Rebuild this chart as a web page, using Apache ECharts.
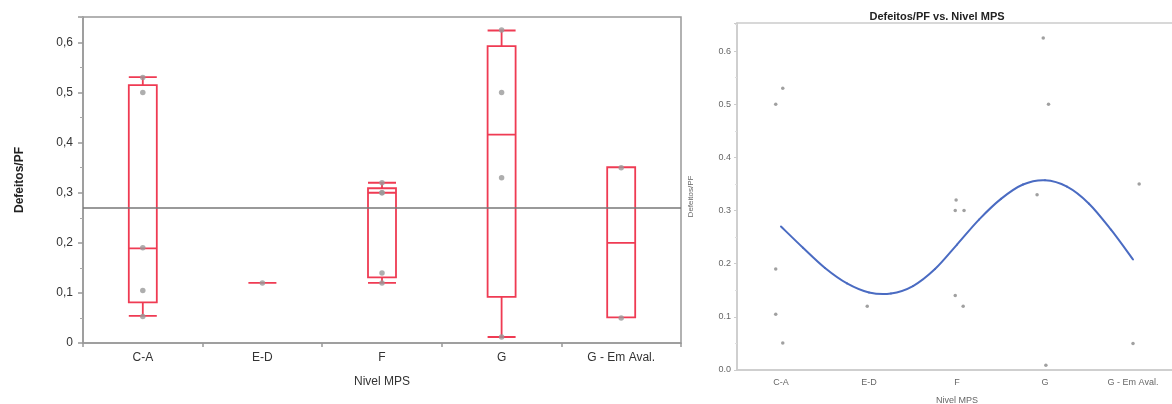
<!DOCTYPE html>
<html>
<head>
<meta charset="utf-8">
<script src="https://cdn.jsdelivr.net/npm/echarts@6/dist/echarts.min.js"></script>
<style>
html,body{margin:0;padding:0;background:#fff;}
#chart{width:1172px;height:404px;}
</style>
</head>
<body>
<div id="chart"></div>
<script>
// ---- data ----
const categories = ['C-A', 'E-D', 'F', 'G', 'G - Em Aval.'];
// box statistics [min, Q1, median, Q3, max]
const boxStats = [
  [0.054, 0.081, 0.189, 0.515, 0.531],
  [0.12, 0.12, 0.12, 0.12, 0.12],
  [0.12, 0.131, 0.30, 0.309, 0.32],
  [0.012, 0.092, 0.416, 0.593, 0.624],
  [0.051, 0.051, 0.20, 0.351, 0.351]
];
// raw observations per category
const obsCA = [0.053, 0.105, 0.19, 0.50, 0.53];
const obsED = [0.12];
const obsF = [0.12, 0.14, 0.30, 0.30, 0.32];
const obsG = [0.012, 0.33, 0.50, 0.625];
const obsGEm = [0.05, 0.35];
const grandMean = 0.265;
// right panel: jittered category position (1..5) and value
const scatterX = [0.94, 1.02, 0.94, 0.94, 1.02, 1.98, 2.99, 2.98, 3.08, 2.98, 3.07, 3.98, 4.04, 3.91, 4.01, 5.07, 5.0];
const scatterY = [0.50, 0.53, 0.19, 0.105, 0.051, 0.12, 0.32, 0.30, 0.30, 0.14, 0.12, 0.625, 0.50, 0.33, 0.009, 0.35, 0.05];
// smoother curve
const curveX = [1, 1.25, 1.5, 1.75, 2, 2.25, 2.5, 2.75, 3, 3.25, 3.5, 3.75, 4, 4.25, 4.5, 4.75, 5];
const curveY = [0.270, 0.230, 0.192, 0.163, 0.146, 0.144, 0.158, 0.190, 0.236, 0.283, 0.322, 0.349, 0.357, 0.345, 0.313, 0.264, 0.208];

// ---- build ----
const obsAll = [obsCA, obsED, obsF, obsG, obsGEm];
const pointsLeft = [];
obsAll.forEach((arr, i) => arr.forEach(v => pointsLeft.push([i, v])));
const pointsRight = scatterX.map((x, i) => [x, scatterY[i]]);
const curve = curveX.map((x, i) => [x, curveY[i]]);

const red = '#ef3b53';
const blue = '#4a6bc2';
const font = 'Liberation Sans, Arial, sans-serif';

// Catmull-Rom segment drawn through the axis scales
function renderCurveSegment(params, api) {
  const i = params.dataIndex;
  const n = curve.length;
  if (i >= n - 1) return null;
  const p = k => api.coord(curve[Math.max(0, Math.min(n - 1, k))]);
  const p0 = p(i - 1), p1 = p(i), p2 = p(i + 1), p3 = p(i + 2);
  return {
    type: 'bezierCurve',
    shape: {
      x1: p1[0], y1: p1[1], x2: p2[0], y2: p2[1],
      cpx1: p1[0] + (p2[0] - p0[0]) / 6, cpy1: p1[1] + (p2[1] - p0[1]) / 6,
      cpx2: p2[0] - (p3[0] - p1[0]) / 6, cpy2: p2[1] - (p3[1] - p1[1]) / 6
    },
    style: {stroke: blue, lineWidth: 2, fill: null, lineCap: 'round'}
  };
}

const chart = echarts.init(document.getElementById('chart'), null, {renderer: 'canvas'});
chart.setOption({
  animation: false,
  backgroundColor: '#fff',
  title: {
    text: 'Defeitos/PF vs. Nivel MPS',
    left: 932, top: 6, textAlign: 'center',
    textStyle: {fontSize: 11, fontWeight: 'bold', color: '#222', fontFamily: font}
  },
  grid: [
    {left: 83, top: 17, width: 598, height: 326, show: true, borderColor: '#999', borderWidth: 1.5,
     backgroundColor: 'transparent', containLabel: false, outerBoundsMode: 'none'},
    {left: 737, top: 23, width: 440, height: 347, show: true, borderColor: '#ccc', borderWidth: 1.5,
     backgroundColor: 'transparent', containLabel: false, outerBoundsMode: 'none'}
  ],
  xAxis: [
    {
      gridIndex: 0, type: 'category', data: categories, boundaryGap: true,
      axisLine: {lineStyle: {color: '#999', width: 1.5}},
      axisTick: {show: true, length: 4, lineStyle: {color: '#999', width: 1.5}},
      axisLabel: {color: '#333', fontSize: 12, margin: 9, fontFamily: font},
      name: 'Nivel MPS', nameLocation: 'middle', nameGap: 33,
      nameTextStyle: {color: '#333', fontSize: 12, fontFamily: font},
      splitLine: {show: false}
    },
    {
      gridIndex: 1, type: 'value', min: 0.5, max: 5.5,
      axisLine: {lineStyle: {color: '#ccc', width: 1.5}},
      axisTick: {show: false},
      axisLabel: {
        color: '#666', fontSize: 9, margin: 8, fontFamily: font,
        customValues: [1, 2, 3, 4, 5],
        formatter: v => categories[Math.round(v) - 1] || ''
      },
      splitLine: {show: false},
      name: 'Nivel MPS', nameLocation: 'middle', nameGap: 26,
      nameTextStyle: {color: '#666', fontSize: 9, fontFamily: font}
    }
  ],
  yAxis: [
    {
      gridIndex: 0, type: 'value', min: 0, max: 0.651, interval: 0.1,
      axisLine: {show: true, lineStyle: {color: '#999', width: 1.5}},
      axisTick: {show: true, length: 5, lineStyle: {color: '#999', width: 1.5}},
      minorTick: {show: true, splitNumber: 2, length: 3, lineStyle: {color: '#aaa', width: 1}},
      axisLabel: {color: '#333', fontSize: 12, margin: 10, fontFamily: font, showMaxLabel: false,
        formatter: v => (Math.round(v * 10) / 10).toString().replace('.', ',')},
      splitLine: {show: false},
      name: 'Defeitos/PF', nameLocation: 'middle', nameGap: 57, nameRotate: 90,
      nameTextStyle: {color: '#222', fontSize: 12, fontWeight: 'bold', fontFamily: font}
    },
    {
      gridIndex: 1, type: 'value', min: 0, max: 0.653, interval: 0.1,
      axisLine: {show: true, lineStyle: {color: '#ccc', width: 1.5}},
      axisTick: {show: true, length: 3, lineStyle: {color: '#ccc'}},
      minorTick: {show: true, splitNumber: 2, length: 2, lineStyle: {color: '#ddd'}},
      axisLabel: {color: '#666', fontSize: 9, margin: 6, fontFamily: font, showMaxLabel: false,
        formatter: v => v.toFixed(1)},
      splitLine: {show: false},
      name: 'Defeitos/PF', nameLocation: 'middle', nameGap: 42, nameRotate: 90,
      nameTextStyle: {color: '#666', fontSize: 8, fontFamily: font}
    }
  ],
  series: [
    {
      type: 'boxplot', xAxisIndex: 0, yAxisIndex: 0,
      data: boxStats, boxWidth: [28, 28],
      itemStyle: {color: 'transparent', borderColor: red, borderWidth: 1.8},
      markLine: {
        silent: true, symbol: 'none', label: {show: false},
        lineStyle: {color: '#777', width: 1.5, type: 'solid'},
        data: [{yAxis: grandMean}]
      }
    },
    {
      type: 'scatter', xAxisIndex: 0, yAxisIndex: 0,
      data: pointsLeft, symbol: 'circle', symbolSize: 5.5,
      itemStyle: {color: '#9a9a9a'}, z: 5
    },
    {
      type: 'scatter', xAxisIndex: 1, yAxisIndex: 1,
      data: pointsRight, symbol: 'circle', symbolSize: 3.5,
      itemStyle: {color: '#888'}
    },
    {
      type: 'custom', xAxisIndex: 1, yAxisIndex: 1,
      data: curve, renderItem: renderCurveSegment, silent: true
    }
  ]
});
</script>
</body>
</html>
